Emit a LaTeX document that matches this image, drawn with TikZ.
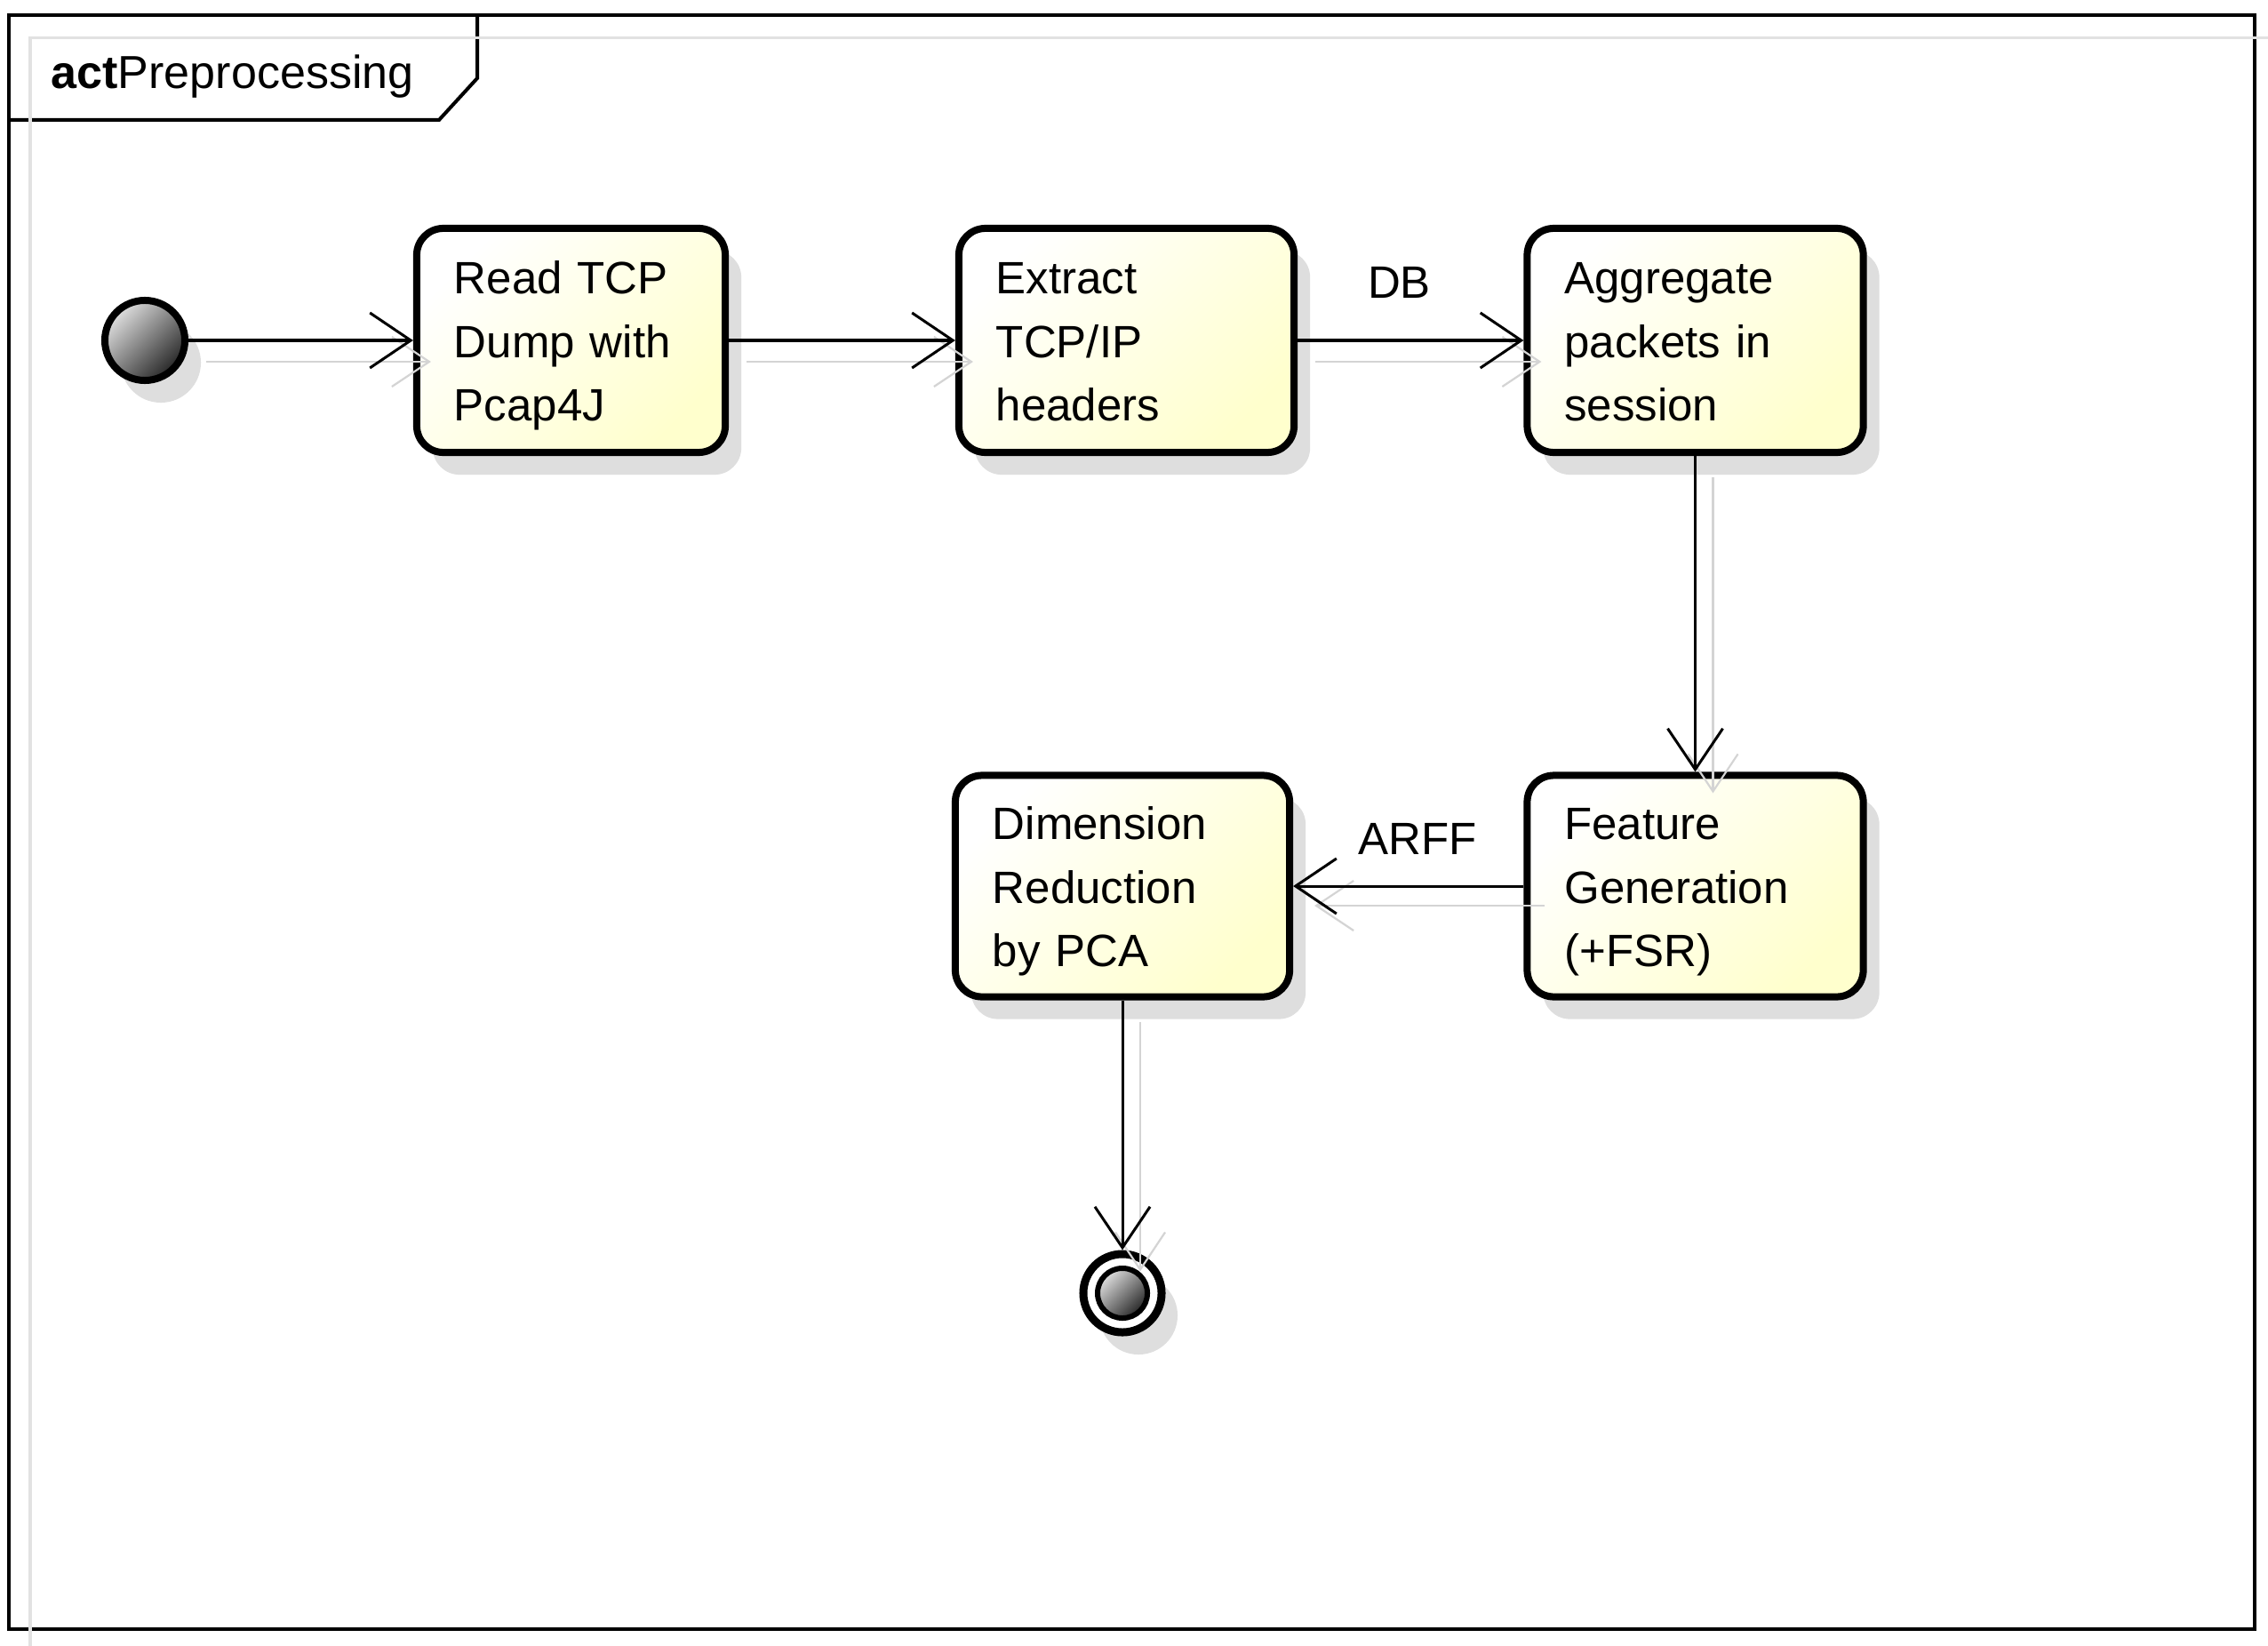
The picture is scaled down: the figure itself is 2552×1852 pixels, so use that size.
\documentclass[tikz,border=0pt]{standalone}
\usepackage{fontspec}
\setmainfont{Liberation Sans}
\usetikzlibrary{arrows.meta,shadows}
\definecolor{boxyellow}{RGB}{255,255,205}
\definecolor{shadowgray}{RGB}{222,222,222}
\definecolor{ghostgray}{RGB}{212,212,212}
\definecolor{frameghost}{RGB}{226,226,226}
\newcommand{\topstrut}{\rule{0pt}{0.5cm}}
\newcommand{\botstrut}{\rule[-0.12cm]{0pt}{0.12cm}}
\begin{document}
\begin{tikzpicture}[x=0.01cm,y=-0.01cm,
  txt/.style={font=\fontsize{14.5pt}{20.2pt}\selectfont},
  shadowed/.style={drop shadow={shadow xshift=0.18cm, shadow yshift=-0.25cm, fill=shadowgray, opacity=1}},
  actbox/.style={draw=black, line width=0.08cm, rounded corners=0.3cm,
    top color=white, bottom color=boxyellow, shading angle=45,
    minimum height=2.52cm, inner xsep=0.42cm, inner ysep=0pt,
    align=left, txt, shadowed},
  initnode/.style={circle, draw=black, line width=0.08cm, minimum size=0.9cm, inner sep=0pt,
    top color=black!12, bottom color=black!85, shading angle=45, shadowed},
  finalring/.style={circle, draw=black, line width=0.09cm, minimum size=0.88cm, inner sep=0pt,
    fill=white, shadowed},
  finaldot/.style={circle, draw=black, line width=0.06cm, minimum size=0.56cm, inner sep=0pt,
    top color=black!12, bottom color=black!85, shading angle=45},
  flow/.style={draw=black, line width=0.03cm, -{Straight Barb[length=0.46cm, width=0.62cm]}},
  ghost/.style={draw=ghostgray, line width=0.022cm, -{Straight Barb[length=0.42cm, width=0.56cm]}},
  lbl/.style={txt, inner sep=0pt, anchor=base}
]
\useasboundingbox (0,0) rectangle (2552,1852);
\clip (0,0) rectangle (2552,1852);
\fill[white] (0,0) rectangle (2552,1852);

% frame
\draw[black, line width=0.04cm] (10,17) rectangle (2537,1833);
\draw[black, line width=0.04cm] (10,135) -- (494,135) -- (537,88) -- (537,17);
\draw[frameghost, line width=0.03cm] (34,1900) -- (34,43) -- (2600,43);
\node[txt, font=\fontsize{14.8pt}{18pt}\selectfont, anchor=base west, inner sep=0pt] (title) at (57,100) {\textbf{act}Preprocessing};

% nodes
\node[initnode] (init) at (163,383) {};
\node[actbox, text width=2.63cm] (b1) at (642.5,383) {\topstrut Read TCP\\Dump with\\Pcap4J\botstrut};
\node[actbox, text width=2.93cm] (b2) at (1267.5,383) {\topstrut Extract\\TCP/IP\\headers\botstrut};
\node[actbox, text width=2.94cm] (b3) at (1907.5,383) {\topstrut Aggregate\\packets in\\session\botstrut};
\node[actbox, text width=2.94cm, minimum height=2.49cm] (b5) at (1907.5,997) {\topstrut Feature\\Generation\\(+FSR)\botstrut};
\node[actbox, text width=2.92cm, minimum height=2.49cm] (b4) at (1263,997) {\topstrut Dimension\\Reduction\\by PCA\botstrut};
\node[finalring] (fin) at (1263,1455) {};
\node[finaldot] (findot) at (fin) {};

% ghost connectors
\draw[ghost] ([shift={(20,24)}]init.east) -- ([shift={(20,24)}]b1.west);
\draw[ghost] ([shift={(20,24)}]b1.east) -- ([shift={(20,24)}]b2.west);
\draw[ghost] ([shift={(20,24)}]b2.east) -- ([shift={(20,24)}]b3.west);
\draw[ghost] ([shift={(20,24)}]b3.south) -- ([shift={(20,24)}]b5.north);
\draw[ghost] ([shift={(24,22)}]b5.west) -- ([shift={(24,22)}]b4.east);
\draw[ghost] ([shift={(20,24)}]b4.south) -- ([shift={(20,24)}]fin.north);

% connectors
\draw[flow] (init) -- (b1);
\draw[flow] (b1) -- (b2);
\draw[flow] (b2) -- node[lbl, pos=0.45, yshift=0.47cm] (dblbl) {DB} (b3);
\draw[flow] (b3) -- (b5);
\draw[flow] (b5) -- node[lbl, pos=0.46, yshift=0.35cm] (arfflbl) {ARFF} (b4);
\draw[flow] (b4) -- (fin);
\end{tikzpicture}
\end{document}
